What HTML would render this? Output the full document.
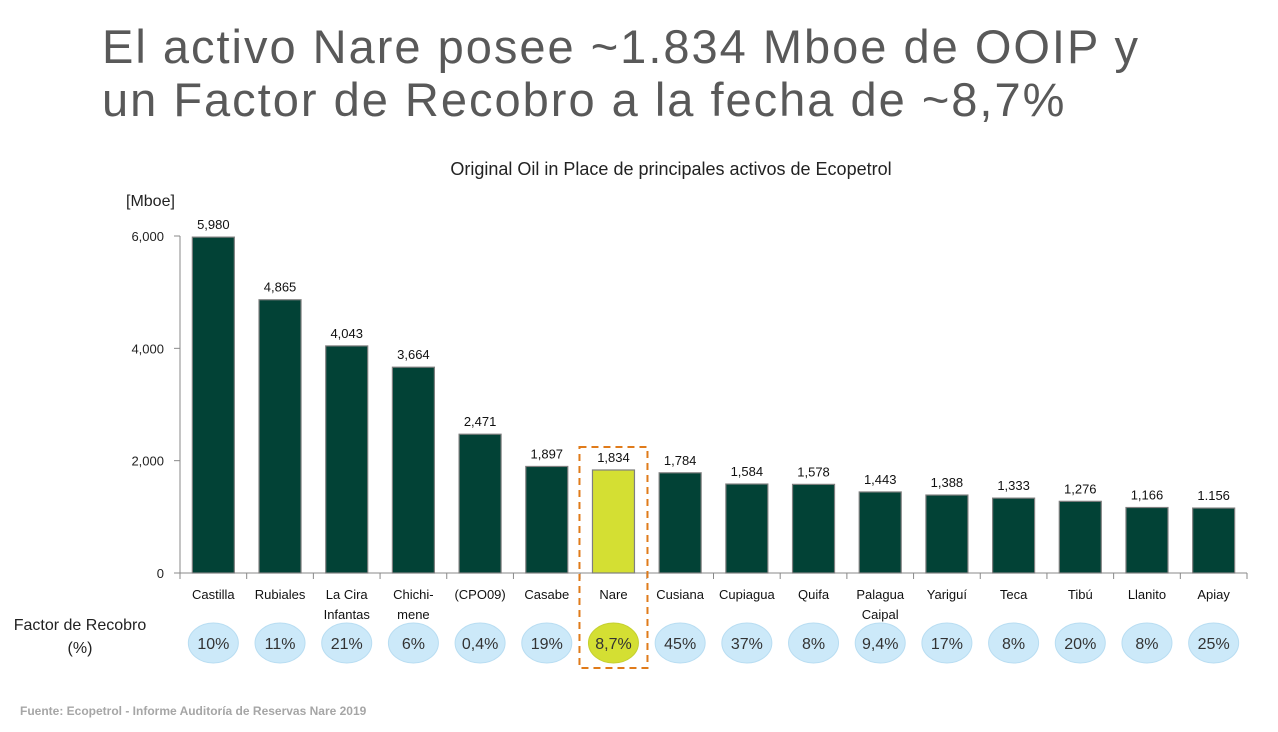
<!DOCTYPE html>
<html><head><meta charset="utf-8">
<style>
body{margin:0;width:1278px;height:732px;background:#fff;overflow:hidden;font-family:"Liberation Sans",sans-serif}
#title{position:absolute;left:102px;top:20px;font-size:47px;line-height:53px;color:#595959;margin:0;font-weight:normal;letter-spacing:2px}
svg{position:absolute;left:0;top:0}
</style></head><body>
<h1 id="title">El activo Nare posee ~1.834 Mboe de OOIP y<br>un Factor de Recobro a la fecha de ~8,7%</h1>
<svg id="chart" width="1278" height="732"></svg>
<script>
const categories=["Castilla","Rubiales","La Cira|Infantas","Chichi-|mene","(CPO09)","Casabe","Nare","Cusiana","Cupiagua","Quifa","Palagua|Caipal","Yariguí","Teca","Tibú","Llanito","Apiay"];
const values=[5980,4865,4043,3664,2471,1897,1834,1784,1584,1578,1443,1388,1333,1276,1166,1156];
const valueLabels=["5,980","4,865","4,043","3,664","2,471","1,897","1,834","1,784","1,584","1,578","1,443","1,388","1,333","1,276","1,166","1.156"];
const recovery=["10%","11%","21%","6%","0,4%","19%","8,7%","45%","37%","8%","9,4%","17%","8%","20%","8%","25%"];
const yTicks=[0,2000,4000,6000];
const yTickLabels=["0","2,000","4,000","6,000"];
const highlight="Nare";

const svg=document.getElementById('chart');const NS='http://www.w3.org/2000/svg';
const x0=180,x1=1247,y0=573,yTop=236,yMax=6000;
const bw=(x1-x0)/categories.length;
const y=v=>y0-(v/yMax)*(y0-yTop);
const xc=i=>x0+bw*(i+0.5);
function mk(t,a,txt){const e=document.createElementNS(NS,t);for(const k in a)e.setAttribute(k,a[k]);if(txt!==undefined)e.textContent=txt;svg.appendChild(e);return e;}
let e;
e=mk('text',{x:671,y:175,'font-size':18,'text-anchor':'middle',fill:'#222'},'Original Oil in Place de principales activos de Ecopetrol');


e=mk('text',{x:126,y:206,'font-size':16,fill:'#222'},'[Mboe]');


e=mk('line',{x1:x0,y1:yTop,x2:x0,y2:y0,stroke:'#888'});


e=mk('line',{x1:x0,y1:y0,x2:x1,y2:y0,stroke:'#888'});


yTicks.forEach((t,i)=>{
 mk('line',{x1:x0-6,y1:y(t),x2:x0,y2:y(t),stroke:'#888'});
 e=mk('text',{x:x0-16,y:y(t)+5,'font-size':13,'text-anchor':'end',fill:'#222'},yTickLabels[i]);
 
 
});
for(let i=0;i<=categories.length;i++)mk('line',{x1:x0+bw*i,y1:y0,x2:x0+bw*i,y2:y0+6,stroke:'#888'});
categories.forEach((c,i)=>{
 const hi=c===highlight;
 e=mk('rect',{x:xc(i)-21,y:y(values[i]),width:42,height:y0-y(values[i]),fill:hi?'#d4df33':'#024236',stroke:'#7f7f7f','stroke-width':1.2});
 
 
 e=mk('text',{x:xc(i),y:y(values[i])-8,'font-size':13,'text-anchor':'middle',fill:'#111'},valueLabels[i]);
 
 
 c.split('|').forEach((p,j)=>{
  e=mk('text',{x:xc(i),y:599+j*20,'font-size':13,'text-anchor':'middle',fill:'#111'},p);
  
  
 });
 e=mk('ellipse',{cx:xc(i),cy:643,rx:25,ry:20,fill:hi?'#d4df33':'#cce9f9',stroke:hi?'#c5d030':'#b8ddf2'});
 
 
 e=mk('text',{x:xc(i),y:649,'font-size':16,'text-anchor':'middle',fill:'#333'},recovery[i]);
 
 
});
const hiI=categories.indexOf(highlight);
e=mk('rect',{x:xc(hiI)-34,y:447,width:68,height:221,fill:'none',stroke:'#e07b1a','stroke-width':2,'stroke-dasharray':'7,5'});


e=mk('text',{x:80,y:630,'font-size':16,'text-anchor':'middle',fill:'#222'},'Factor de Recobro');


mk('text',{x:80,y:653,'font-size':16,'text-anchor':'middle',fill:'#222'},'(%)');
e=mk('text',{x:20,y:715,'font-size':12,'font-weight':'bold',fill:'#a6a6a6'},'Fuente: Ecopetrol - Informe Auditoría de Reservas Nare 2019');


</script>
</body></html>
